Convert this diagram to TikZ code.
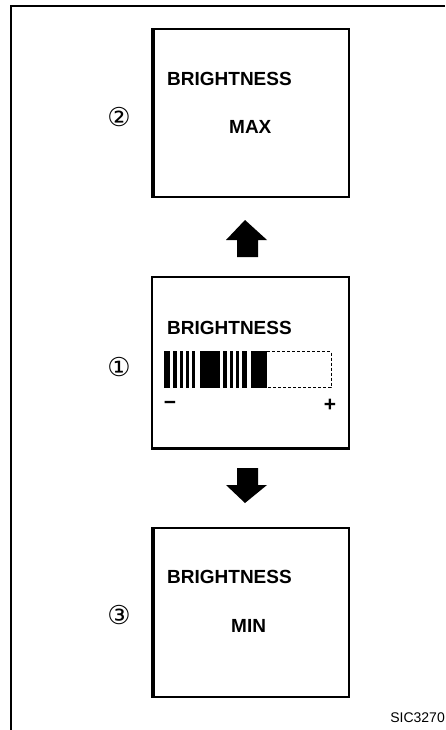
\documentclass[tikz,border=0pt]{standalone}
\usepackage{fontspec}
\setmainfont{Liberation Sans}
\newfontfamily\circfont{DejaVu Sans}
\usetikzlibrary{positioning}
\newcommand{\lcdfont}{\fontsize{19}{21}\selectfont\bfseries}
\newcommand{\signfont}{\fontsize{21}{23}\selectfont\bfseries}
\newcommand{\stepfont}{\fontsize{26}{28}\selectfont\circfont}
\newcommand{\codefont}{\fontsize{14}{16}\selectfont}
\newcommand{\barstripe}[2]{%
  \fill (#1,351) rectangle (#2,388);
}
\newcommand{\blockarrow}[3]{%
  % #1 tip y, #2 head base y, #3 shaft end y
  \fill (245,#1) -- (267,#2) -- (258,#2) -- (258,#3)
    -- (237,#3) -- (237,#2) -- (226,#2) -- cycle;
}
\tikzset{
  screen/.style={draw,line width=1.6pt,minimum width=197pt,inner sep=0pt},
  lcdtext/.style={anchor=west,inner sep=0pt,font=\lcdfont},
  steplabel/.style={inner sep=0pt,font=\stepfont}
}

\begin{document}
\begin{tikzpicture}[x=1pt,y=-1pt]
  \useasboundingbox (0,0) rectangle (445,730);

  % outer frame, open to the right and below
  \draw[line width=1.6pt] (11,730) -- (11,6) -- (445,6);

  % screen 2: maximum
  \node[screen,minimum height=168pt] (scr2) at (250.5,113) {};
  \draw[line width=4pt] ([xshift=2pt]scr2.north west) -- ([xshift=2pt]scr2.south west);
  \node[lcdtext] (txt2) at (167,79) {BRIGHTNESS};
  \node[lcdtext] (val2) at (229,127) {MAX};
  \node[steplabel] (num2) at (119,117) {②};

  \blockarrow{220}{240}{257}

  % screen 1: adjust bar
  \node[screen,minimum height=172pt] (scr1) at (250.5,363) {};
  \draw[line width=3.5pt] ([yshift=1.5pt]scr1.south west) -- ([yshift=1.5pt]scr1.south east);
  \node[lcdtext] (txt1) at (167,328) {BRIGHTNESS};
  \node[steplabel] (num1) at (119,367) {①};
  \foreach \a/\b in {164/170,173/177,180/183,186/189,192/195,
                     200/220,223/227,230/233,236/239,242/247,251/267}{
    \barstripe{\a}{\b}
  }
  \draw[densely dashed,line width=1pt] (267,351.5) -- (331,351.5) -- (331,387.5) -- (267,387.5);
  \node[inner sep=0pt,font=\signfont] (minus) at (170,405) {−};
  \node[inner sep=0pt,font=\signfont] (plus) at (330,405) {+};

  \blockarrow{503}{485}{468}

  % screen 3: minimum
  \node[screen,minimum height=169pt] (scr3) at (250.5,612.5) {};
  \draw[line width=4pt] ([xshift=2pt]scr3.north west) -- ([xshift=2pt]scr3.south west);
  \node[lcdtext] (txt3) at (167,577) {BRIGHTNESS};
  \node[lcdtext] (val3) at (231,626) {MIN};
  \node[steplabel] (num3) at (119,615) {③};

  \node[anchor=east,inner sep=0pt,font=\codefont] (code) at (445,718) {SIC3270};
\end{tikzpicture}
\end{document}
